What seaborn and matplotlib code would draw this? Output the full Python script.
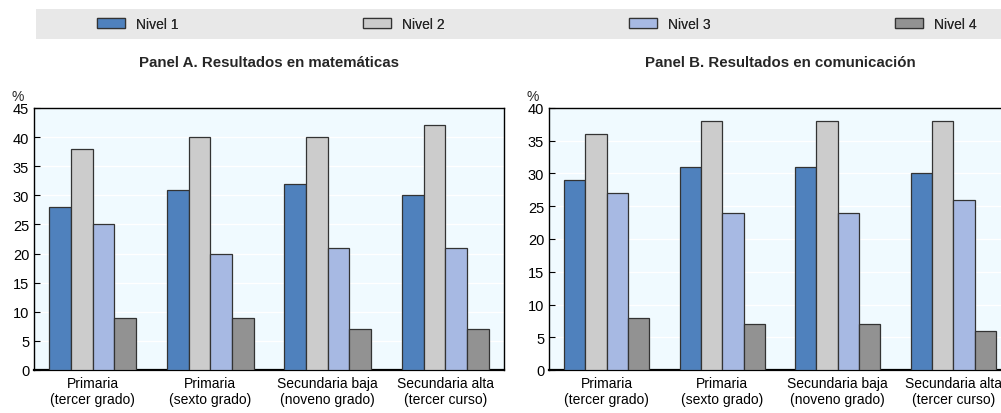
import matplotlib
matplotlib.use("Agg")
import matplotlib.pyplot as plt
import seaborn as sns
import pandas as pd
from matplotlib.patches import Rectangle, Patch

categories = ["Primaria\n(tercer grado)", "Primaria\n(sexto grado)",
              "Secundaria baja\n(noveno grado)", "Secundaria alta\n(tercer curso)"]
levels = ["Nivel 1", "Nivel 2", "Nivel 3", "Nivel 4"]
math_n1 = [28, 31, 32, 30]
math_n2 = [38, 40, 40, 42]
math_n3 = [25, 20, 21, 21]
math_n4 = [9, 9, 7, 7]
comm_n1 = [29, 31, 31, 30]
comm_n2 = [36, 38, 38, 38]
comm_n3 = [27, 24, 24, 26]
comm_n4 = [8, 7, 7, 6]
colors = ["#4F81BD", "#CCCCCC", "#A7B9E3", "#929292"]

def make_df(series):
    rows = []
    for lvl, vals in zip(levels, series):
        for c, v in zip(categories, vals):
            rows.append({"cat": c, "nivel": lvl, "val": v})
    return pd.DataFrame(rows)

df_a = make_df([math_n1, math_n2, math_n3, math_n4])
df_b = make_df([comm_n1, comm_n2, comm_n3, comm_n4])

sns.set_theme(style="white")
plt.rcParams["font.family"] = ["Liberation Sans", "DejaVu Sans"]
plt.rcParams["font.size"] = 10

fig = plt.figure(figsize=(10.01, 4.14), dpi=100)
axw = 470 / 1001
bottom = 1 - 371 / 414
height = (371 - 109) / 414
ax_a = fig.add_axes([34 / 1001, bottom, axw, height])
ax_b = fig.add_axes([549 / 1001, bottom, 462 / 1001, height])

def draw(ax, df, ymax, title):
    ax.set_facecolor("#F0FAFF")
    sns.barplot(data=df, x="cat", y="val", hue="nivel", palette=colors,
                width=0.74, edgecolor="#333333", linewidth=0.9, ax=ax,
                legend=False, zorder=3, saturation=1)
    ax.set_ylim(0, ymax)
    ax.set_xlim(-0.5, 3.5)
    ax.set_yticks(range(0, ymax + 1, 5))
    ax.yaxis.grid(True, color="white", linewidth=1.0, zorder=0)
    ax.set_axisbelow(True)
    ax.set_xticks([0, 1, 2, 3])
    ax.set_xticklabels(categories, fontsize=10, color="black")
    ax.set_xticks([0.5, 1.5, 2.5], minor=True)
    ax.tick_params(axis="x", which="major", length=0, pad=4)
    ax.tick_params(axis="x", which="minor", direction="in", length=4, width=1, color="black")
    ax.tick_params(axis="y", direction="in", length=4, width=0.8, color="black",
                   labelsize=10.5, labelcolor="black", left=True)
    ax.set_xlabel("")
    ax.set_ylabel("")
    for side in ["left", "top", "right"]:
        ax.spines[side].set_color("black")
        ax.spines[side].set_linewidth(1.0)
    ax.spines["bottom"].set_color("black")
    ax.spines["bottom"].set_linewidth(1.6)
    ax.set_title(title, fontsize=10.8, fontweight="bold", pad=30)
    ax.text(-0.035, 1.02, "%", transform=ax.transAxes, fontsize=10, ha="center", va="bottom")

draw(ax_a, df_a, 45, "Panel A. Resultados en matemáticas")
draw(ax_b, df_b, 40, "Panel B. Resultados en comunicación")

fig.patches.append(Rectangle((36 / 1001, 1 - 40 / 414), 1 - 36 / 1001, 30 / 414,
                             transform=fig.transFigure, facecolor="#E8E8E8",
                             edgecolor="none", zorder=0))
for i, (lvl, c) in enumerate(zip(levels, colors)):
    h = Patch(facecolor=c, edgecolor="#333333", linewidth=0.9)
    leg = fig.legend([h], [lvl], loc="center left",
                     bbox_to_anchor=((97 + i * 266) / 1001, 1 - 25 / 414),
                     frameon=False, fontsize=10, handlelength=2.0, handleheight=0.75,
                     handletextpad=0.8, borderaxespad=0, borderpad=0)
    fig.add_artist(leg)

fig.savefig("out.png", dpi=100)
